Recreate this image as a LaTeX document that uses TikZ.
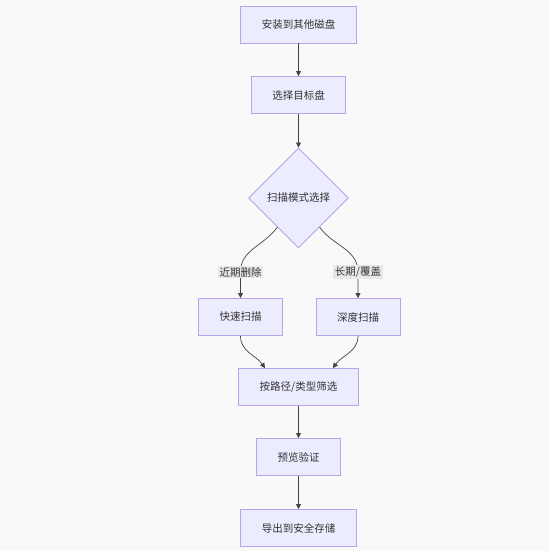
\documentclass[tikz,border=0pt]{standalone}
\usepackage{fontspec}
\newfontfamily\cjk{Noto Sans CJK SC}
\usetikzlibrary{arrows.meta,shapes.geometric,calc,positioning}
\definecolor{bgcol}{HTML}{F9F9F9}
\definecolor{boxfill}{HTML}{ECECFF}
\definecolor{boxline}{HTML}{B7A4EC}
\definecolor{linecol}{HTML}{444444}
\definecolor{tagbg}{HTML}{E8E8E8}
\definecolor{txt}{HTML}{333333}
\tikzstyle{flow}=[draw=linecol,line width=0.7pt,-{Triangle[length=5pt,width=5pt]}]
\tikzstyle{box} =
  [rectangle, draw=boxline, fill=boxfill, line width=0.9pt,
   inner xsep=21pt, text centered, minimum height=37pt]
\tikzstyle{choice} =
  [diamond, draw=boxline, fill=boxfill, line width=0.9pt, inner sep=0pt,
   minimum width=100pt, minimum height=100pt, text centered]
\tikzstyle{tag} = [fill=tagbg, inner sep=1.5pt]
\begin{document}
\begin{tikzpicture}[x=1pt, y=1pt, node distance=70pt,
    font=\cjk\fontsize{10.5}{12}\selectfont, text=txt]
  \useasboundingbox[fill=bgcol] (0,0) rectangle (549,-551);
  \node [box] (install) at (298.5,-24.5) {安装到其他磁盘};
  \node [box, below of=install, node distance=70.5pt] (target) {选择目标盘};
  \node [choice, below of=target, node distance=103pt] (mode) {扫描模式选择};
  \node [box, below of=mode, node distance=119pt, xshift=-58pt] (quick) {快速扫描};
  \node [box, below of=mode, node distance=119pt, xshift=59.5pt] (deep) {深度扫描};
  \node [box, below of=mode, node distance=189pt] (filter) {按路径/类型筛选};
  \node [box, below of=filter] (preview) {预览验证};
  \node [box, below of=preview, node distance=71pt] (export) {导出到安全存储};

  \path (quick.north) ++(0,26) coordinate (k1);
  \path (deep.north) ++(0,26) coordinate (k2);

  \draw [flow] (install) -- (target);
  \draw [flow] (target) -- (mode);
  \draw [flow] (mode.234) to [out=235,in=90] (k1) -- (quick);
  \draw [flow] (mode.306) to [out=305,in=90] (k2) -- (deep);
  \node [tag] (l1) at (k1) {近期删除};
  \node [tag] (l2) at (k2) {长期/覆盖};
  \draw [flow] (quick) to [out=-90,in=125] ($(filter.north)+(-33.5,0)$);
  \draw [flow] (deep) to [out=-90,in=55] ($(filter.north)+(34.5,0)$);
  \draw [flow] (filter) -- (preview);
  \draw [flow] (preview) -- (export);
\end{tikzpicture}
\end{document}
